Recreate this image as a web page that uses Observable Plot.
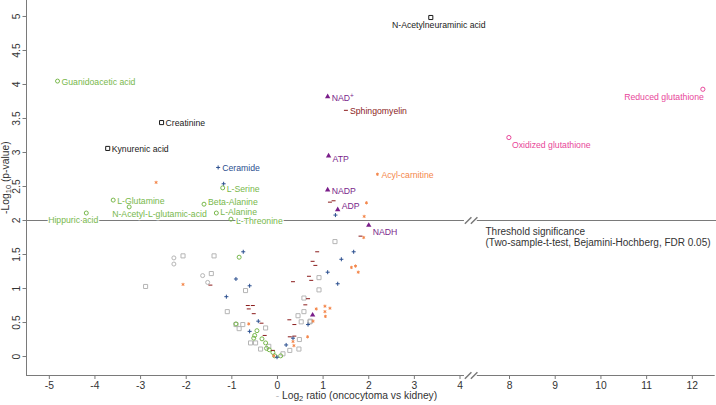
<!DOCTYPE html>
<html><head><meta charset="utf-8">
<script src="https://cdn.jsdelivr.net/npm/d3@7"></script>
<script src="https://cdn.jsdelivr.net/npm/@observablehq/plot@0.6"></script>
<style>
body{margin:0;background:#fff;}
#chart svg{display:block;}
</style></head><body><div id="chart"></div>
<script>
// ---------- data ----------
const xTicks = [-5,-4,-3,-2,-1,0,1,2,3,4,8,9,10,11,12];
const yTicks = [0,0.5,1,1.5,2,2.5,3,3.5,4,4.5,5];
const threshold = 2;
const thresholdText = "Threshold significance\n(Two-sample-t-test, Bejamini-Hochberg, FDR 0.05)";
const xTitle = "- Log2 ratio (oncocytoma vs kidney)";
const yTitle = "-Log10 (p-value)";

// labelled metabolites
const labeledNames = ["N-Acetylneuraminic acid","Guanidoacetic acid","Creatinine","Kynurenic acid","Ceramide","L-Serine","L-Glutamine","N-Acetyl-L-glutamic-acid","Beta-Alanine","L-Alanine","L-Threonine","Hippuric acid","NAD+","Sphingomyelin","ATP","Acyl-carnitine","NADP","ADP","NADH","Reduced glutathione","Oxidized glutathione"];
const labeledLog2 = [3.36,-4.82,-2.54,-3.72,-1.30,-1.20,-3.60,-3.25,-1.61,-1.34,-1.02,-4.19,1.10,1.50,1.12,2.19,1.10,1.32,2.00,12.23,7.95];
const labeledNegLogP = [4.985,4.05,3.44,3.06,2.78,2.48,2.30,2.20,2.24,2.11,2.02,2.11,3.82,3.62,2.95,2.68,2.45,2.16,1.93,3.93,3.22];
const labeledClass = ["other","amino","other","other","lipid","amino","amino","amino","amino","amino","amino","amino","nucleotide","sphingolipid","nucleotide","acylcarnitine","nucleotide","nucleotide","nucleotide","glutathione","glutathione"];

// unlabelled metabolites, by class
const grayLog2 = [-2.07,-1.39,-2.89,-1.45,-1.10,-0.84,1.26,0.91,0.91,-0.70,-0.91,-0.76,-0.26,-0.59,-0.48,-0.37,-0.19,0.12,0.27,0.48,0.52,0.45,0.72,0.58,0.47,0.58,0.71];
const grayNegLogP = [1.48,1.48,1.03,1.22,0.66,0.41,1.69,1.16,0.98,0.97,0.47,0.47,0.42,0.20,0.20,0.11,0.15,0.04,0.09,0.25,0.51,0.60,0.52,0.66,0.11,0.86,0.51];
const grayCircleLog2 = [-2.27,-2.27,-1.64,-1.53];
const grayCircleNegLogP = [1.45,1.36,1.19,1.09];
const aminoLog2 = [-0.84,-0.91,-0.45,-0.50,-0.52,-0.34,-0.26,-0.18,-0.10,-0.06,0.07,-0.24];
const aminoNegLogP = [1.46,0.48,0.38,0.31,0.27,0.26,0.20,0.10,0.06,0.01,0.01,0.12];
const lipidLog2 = [-1.18,-1.12,-0.91,-0.75,1.27,1.67,1.40,1.10,1.32,-0.61,-0.42,-0.61,-0.01,0.19,0.67,0.34];
const lipidNegLogP = [2.54,0.88,1.14,1.54,2.08,1.54,1.43,1.24,1.07,1.04,0.52,0.37,-0.01,0.17,0.47,0.27];
const sphingoLog2 = [1.15,1.23,1.82,0.87,0.77,0.83,0.69,0.74,-1.47,-0.65,-0.54,-0.63,-0.52,-0.35,-0.28,-0.10,0.27,0.37,0.37,0.26,0.61,0.67,0.34];
const sphingoNegLogP = [2.27,2.29,1.77,1.54,1.40,1.34,1.18,1.12,1.05,0.75,0.75,0.70,0.63,0.49,0.31,0.09,0.29,0.30,0.47,0.54,0.76,0.85,1.10];
const acylLog2 = [-2.66,-2.07,1.95,1.90,1.89,1.62,1.71,1.77,-0.63,0.36,0.34,0.66,0.85,1.04,1.15,1.05,-0.08,1.04,0.78];
const acylNegLogP = [2.56,1.06,2.26,2.06,1.75,1.31,1.33,1.24,0.48,0.16,0.22,0.29,0.70,0.74,0.71,0.59,0.01,0.66,0.52];
const nucleotideLog2 = [0.77];
const nucleotideNegLogP = [0.61];

// ---------- layout / style ----------
const W = 716, H = 405;
const xDomain = [-5.5, 4, 8, 12.5];
const xRange = [26, 459.5, 509, 714.7];
const yDomain = [-0.279, 5.235];
const axisBreak = {end: 4.36, start: 5.4, at: 4.9};
const font = "'Liberation Sans', Arial, Helvetica, sans-serif";
const axisColor = "#7a7a7a";

const dashSymbol = {draw(ctx, size) { const w = Math.sqrt(size) * 0.7; ctx.moveTo(-w, 0); ctx.lineTo(w, 0); }};
const breakSymbol = {draw(ctx, size) { const s = Math.sqrt(size) / 2; for (const o of [-3, 3]) { ctx.moveTo(o - s, s); ctx.lineTo(o + s, -s); } }};

const classStyle = {
  other:        {symbol: "square",   stroke: "#1a1a1a", fill: "none", r: 2.3, text: "#1a1a1a"},
  amino:        {symbol: "circle",   stroke: "#78b84c", fill: "none", r: 2.0, text: "#78b84c"},
  lipid:        {symbol: "plus",     stroke: "#2b4f8f", fill: "none", r: 1.4, text: "#2b4f8f"},
  sphingolipid: {symbol: dashSymbol, stroke: "#8b1c1c", fill: "none", r: 1.6, text: "#8b1c1c"},
  nucleotide:   {symbol: "triangle", stroke: "none",    fill: "#7a1e8a", r: 2.0, text: "#7a1e8a"},
  acylcarnitine:{symbol: "asterisk", stroke: "#f4874b", fill: "none", r: 1.5, text: "#f4874b"},
  glutathione:  {symbol: "circle",   stroke: "#e8479a", fill: "none", r: 2.1, text: "#e8479a"},
  gray:         {symbol: "square",   stroke: "#b5b5b5", fill: "none", r: 2.3},
  grayCircle:   {symbol: "circle",   stroke: "#b5b5b5", fill: "none", r: 2.0}
};
// label placement: [textAnchor, dx, dy]
const labelPlacement = {
  "N-Acetylneuraminic acid": ["middle", 8, 8],
  "N-Acetyl-L-glutamic-acid": ["start", -17, 7],
  "Hippuric acid": ["middle", -13, 7],
  "ATP": ["start", 4, 3],
  "ADP": ["start", 4, -3],
  "NADH": ["start", 4, 7],
  "Beta-Alanine": ["start", 4, -2],
  "L-Alanine": ["start", 4, -1],
  "L-Threonine": ["start", 5, 2],
  "Reduced glutathione": ["end", 1, 8],
  "Oxidized glutathione": ["start", 3, 8]
};

const zip = (xs, ys, extra = {}) => xs.map((x, i) => ({x, y: ys[i], ...extra}));
const labeled = labeledNames.map((name, i) => ({name, x: labeledLog2[i], y: labeledNegLogP[i], cls: labeledClass[i]}));

function dots(data, cls) {
  const s = classStyle[cls];
  return Plot.dot(data, {x: "x", y: "y", symbol: s.symbol, stroke: s.stroke, fill: s.fill, r: s.r, strokeWidth: 1});
}

const marks = [
  // axes lines with break
  Plot.ruleX([xDomain[0]], {y1: yDomain[0], y2: yDomain[1], stroke: axisColor}),
  Plot.ruleY([yDomain[0]], {x1: xDomain[0], x2: axisBreak.end, stroke: axisColor}),
  Plot.ruleY([yDomain[0]], {x1: axisBreak.start, x2: xDomain[3], stroke: axisColor}),
  // threshold
  Plot.ruleY([threshold], {x1: xDomain[0], x2: axisBreak.end, stroke: axisColor}),
  Plot.ruleY([threshold], {x1: axisBreak.start, x2: xDomain[3] + 0.1, stroke: axisColor}),
  Plot.dot([{x: axisBreak.at, y: yDomain[0]}, {x: axisBreak.at, y: threshold}], {x: "x", y: "y", symbol: breakSymbol, r: 3.7, stroke: axisColor, fill: "none"}),
  Plot.text([thresholdText], {x: 6.06, y: threshold, text: d => d, textAnchor: "start", lineAnchor: "top", dy: 6, fontSize: 10, lineHeight: 1.15, fill: "#333"}),
  // unlabelled points
  dots(zip(grayLog2, grayNegLogP), "gray"),
  dots(zip(grayCircleLog2, grayCircleNegLogP), "grayCircle"),
  dots(zip(aminoLog2, aminoNegLogP), "amino"),
  dots(zip(lipidLog2, lipidNegLogP), "lipid"),
  dots(zip(sphingoLog2, sphingoNegLogP), "sphingolipid"),
  dots(zip(acylLog2, acylNegLogP), "acylcarnitine"),
  dots(zip(nucleotideLog2, nucleotideNegLogP), "nucleotide"),
  // labels
  ...labeled.map(d => {
    const [anchor, dx, dy] = labelPlacement[d.name] || ["start", 4, 1];
    return Plot.text([d], {x: "x", y: "y", text: "name", textAnchor: anchor, dx, dy, fontSize: 8.7,
      fill: classStyle[d.cls].text, stroke: "white", strokeWidth: 2.5, paintOrder: "stroke"});
  }),
  // labelled points
  ...Object.keys(classStyle).map(cls => dots(labeled.filter(d => d.cls === cls), cls)),
  // axes ticks
  Plot.axisX({ticks: xTicks, tickSize: 4, tickPadding: 2, tickFormat: d => String(d), fontSize: 10.3, stroke: axisColor, fill: "#333", label: null}),
  Plot.axisY({ticks: yTicks, tickSize: 3.5, tickPadding: 3, tickRotate: -90, tickFormat: d => String(d), fontSize: 10.3, stroke: axisColor, fill: "#333", label: null}),
  // axis titles
  Plot.text([yTitle], {x: xDomain[0], y: 2.63, text: d => d, rotate: -90, dx: -21, fontSize: 10.3, fill: "#333"}),
  Plot.text([xTitle], {x: 1.73, frameAnchor: "bottom", text: d => d, dy: 23, fontSize: 10.3, fill: "#333"})
];

const chart = Plot.plot({
  width: W, height: H,
  marginLeft: 26, marginRight: 2, marginTop: 0, marginBottom: 30,
  style: {fontFamily: font, background: "#fff", color: "#333"},
  x: {type: "linear", domain: xDomain, range: xRange},
  y: {domain: yDomain, range: [375, 0]},
  marks
});

// sub/superscripts
chart.querySelectorAll("text").forEach(t => {
  const s = t.textContent;
  if (s === yTitle) t.innerHTML = '-Log<tspan dy="2.5" font-size="7.5">10</tspan><tspan dy="-2.5"> (p-value)</tspan>';
  else if (s === xTitle) t.innerHTML = '<tspan fill="#bbb">- </tspan>Log<tspan dy="2.5" font-size="7.5">2</tspan><tspan dy="-2.5"> ratio (oncocytoma vs kidney)</tspan>';
  else if (s === "NAD+") t.innerHTML = 'NAD<tspan dy="-3" font-size="6.5">+</tspan>';
});
document.getElementById("chart").appendChild(chart);
</script>
</body></html>
